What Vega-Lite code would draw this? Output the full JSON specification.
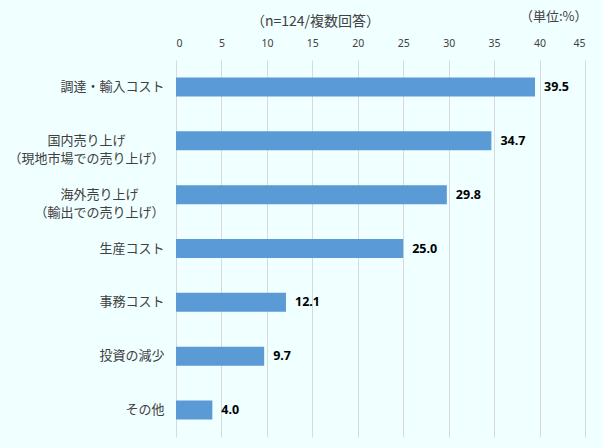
{
  "$schema": "https://vega.github.io/schema/vega-lite/v6.json",
  "width": 409,
  "height": 377,
  "autosize": "none",
  "padding": {"left": 176, "top": 60, "right": 18, "bottom": 11},
  "background": "#F0FFFF",
  "config": {
    "view": {"stroke": null},
    "font": "Noto Sans CJK JP"
  },
  "title": {
    "text": "（n=124/複数回答）",
    "anchor": "start",
    "frame": "group",
    "dx": 75,
    "offset": 0,
    "dy": 19,
    "fontSize": 14,
    "fontWeight": "normal",
    "color": "#404040",
    "font": "Noto Sans CJK JP"
  },
  "data": {
    "values": [
      {"item": "調達・輸入コスト", "value": 39.5},
      {"item": "国内売り上げ\n（現地市場での売り上げ）", "value": 34.7},
      {"item": "海外売り上げ\n（輸出での売り上げ）", "value": 29.8},
      {"item": "生産コスト", "value": 25.0},
      {"item": "事務コスト", "value": 12.1},
      {"item": "投資の減少", "value": 9.7},
      {"item": "その他", "value": 4.0}
    ]
  },
  "encoding": {
    "y": {
      "field": "item",
      "type": "nominal",
      "sort": null,
      "scale": {"paddingInner": 0.647, "paddingOuter": 0.3235},
      "axis": {
        "title": null,
        "domain": false,
        "ticks": false,
        "labelPadding": 12,
        "labelFontSize": 13,
        "labelColor": "#404040",
        "labelLineHeight": 18,
        "labelLimit": 300,
        "labelExpr": "length(split(datum.label,'\\n'))>1 ? [pad(split(datum.label,'\\n')[0], max(length(split(datum.label,'\\n')[0]), length(split(datum.label,'\\n')[1])), '\u3000', 'center') + '\u2060', split(datum.label,'\\n')[1]] : datum.label"
      }
    },
    "x": {
      "field": "value",
      "type": "quantitative",
      "scale": {"domain": [0, 45], "nice": false},
      "axis": {
        "orient": "top",
        "values": [0, 5, 10, 15, 20, 25, 30, 35, 40, 45],
        "domain": false,
        "ticks": false,
        "tickSize": 0,
        "grid": true,
        "gridColor": "#D9D9D9",
        "gridWidth": 1,
        "labelPadding": 12,
        "labelFontSize": 10.5,
        "labelColor": "#404040",
        "labelFont": "Noto Sans",
        "title": "（単位:%）",
        "titleFontSize": 13,
        "titleFontWeight": "normal",
        "titleColor": "#404040",
        "titleAnchor": "end",
        "titleAlign": "right",
        "titleBaseline": "alphabetic",
        "titleX": 411,
        "titleY": -40
      }
    }
  },
  "layer": [
    {"mark": {"type": "bar", "color": "#5B9BD5"}},
    {
      "mark": {"type": "text", "align": "left", "dx": 9, "fontSize": 12.5, "fontWeight": "bold", "color": "#000000", "font": "Noto Sans"},
      "encoding": {"text": {"field": "value", "type": "quantitative", "format": ".1f"}}
    }
  ]
}
